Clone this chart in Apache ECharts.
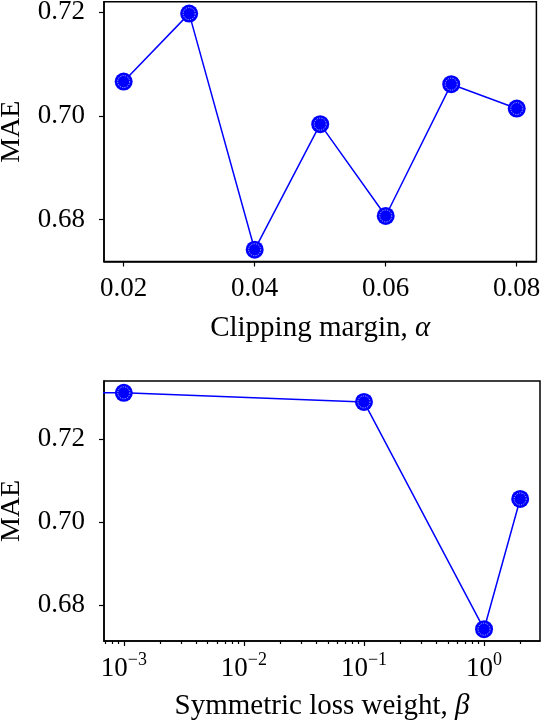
<!DOCTYPE html>
<html>
<head>
<meta charset="utf-8">
<script src="https://cdn.jsdelivr.net/npm/echarts@6/dist/echarts.min.js"></script>
<style>
html,body{margin:0;padding:0;background:#fff;}
#chart{width:542px;height:722px;}
</style>
</head>
<body>
<div id="chart"></div>
<script>
// ---- data ----
const alphaValues = [0.02, 0.03, 0.04, 0.05, 0.06, 0.07, 0.08];
const maeAlpha    = [0.7066, 0.7197, 0.6742, 0.6984, 0.6807, 0.7061, 0.7014];

const betaValues  = [0, 0.001, 0.1, 1, 2];
const maeBeta     = [0.7314, 0.7312, 0.7290, 0.6742, 0.7056];

const yTicks      = [0.68, 0.70, 0.72];
const alphaTicks  = [0.02, 0.04, 0.06, 0.08];
const betaMajor   = [0.001, 0.01, 0.1, 1];
const betaMinor   = [0.0007, 0.0008, 0.0009,
  0.002, 0.003, 0.004, 0.005, 0.006, 0.007, 0.008, 0.009,
  0.02, 0.03, 0.04, 0.05, 0.06, 0.07, 0.08, 0.09,
  0.2, 0.3, 0.4, 0.5, 0.6, 0.7, 0.8, 0.9, 2];

// like matplotlib's log-scale clipping, a zero is sent far to the left
const clipZero = v => (v <= 0 ? 1e-12 : v);

const FONT = 'Liberation Serif';
const FS = 27;
const FS_NAME = 29;
const BLUE = '#0000ff';

const alphaPairs = alphaValues.map((x, i) => [x, maeAlpha[i]]);
const betaPairs  = betaValues.map((x, i) => [clipZero(x), maeBeta[i]]);
const betaMarkers = betaPairs.filter((p, i) => betaValues[i] > 0);

const labelStyle = {color: '#000', fontFamily: FONT, fontSize: FS};
const nameStyle = {color: '#000', fontFamily: FONT, fontSize: FS_NAME,
  rich: {i: {fontStyle: 'italic', fontFamily: FONT, fontSize: FS_NAME, color: '#000'}}};
const yNameStyle = {color: '#000', fontFamily: FONT, fontSize: 28};
const axisLine = {show: true, lineStyle: {color: '#000', width: 1.5}};
const tick = (vals, len) => ({show: true, inside: false, length: len, customValues: vals,
  lineStyle: {color: '#000', width: 1.2}});

function supLabel(v) {
  const e = Math.round(Math.log10(v));
  const s = e < 0 ? '\u2212' + (-e) : String(e);
  return '{b|10}{s|' + s + '}';
}

const chart = echarts.init(document.getElementById('chart'), null, {renderer: 'canvas'});
chart.setOption({
  animation: false,
  backgroundColor: '#fff',
  grid: [
    {left: 104, right: 5.6, top: 1.8, bottom: 460.5, show: true, borderColor: '#000', borderWidth: 1.5,
     containLabel: false, outerBoundsMode: 'none'},
    {left: 104, right: 2, top: 381, bottom: 81, show: true, borderColor: '#000', borderWidth: 1.5,
     containLabel: false, outerBoundsMode: 'none'}
  ],
  xAxis: [
    {
      gridIndex: 0, type: 'value', min: 0.017, max: 0.083,
      axisLine, splitLine: {show: false},
      axisTick: tick(alphaTicks, 5),
      axisLabel: Object.assign({customValues: alphaTicks, margin: 14,
        formatter: v => v.toFixed(2)}, labelStyle),
      name: 'Clipping margin, {i|α}', nameLocation: 'middle', nameGap: 52,
      nameTextStyle: nameStyle
    },
    {
      gridIndex: 1, type: 'log', logBase: 10, min: 0.000684, max: 2.924, position: 'bottom',
      axisLine, splitLine: {show: false},
      axisTick: tick(betaMajor, 5),
      axisLabel: Object.assign({customValues: betaMajor, margin: 10,
        formatter: supLabel,
        rich: {
          b: {fontFamily: FONT, fontSize: FS, color: '#000', padding: [4, 0, 0, 0]},
          s: {fontFamily: FONT, fontSize: 18, color: '#000', verticalAlign: 'top'}
        }}, labelStyle),
      name: 'Symmetric loss weight, {i|β}', nameLocation: 'middle', nameGap: 51,
      nameTextStyle: nameStyle
    },
    {
      gridIndex: 1, type: 'log', logBase: 10, min: 0.000684, max: 2.924, position: 'bottom',
      axisLine: {show: false}, splitLine: {show: false},
      axisTick: tick(betaMinor, 3),
      axisLabel: {show: false}
    }
  ],
  yAxis: [
    {
      gridIndex: 0, type: 'value', min: 0.671925, max: 0.721975,
      axisLine, splitLine: {show: false},
      axisTick: tick(yTicks, 5),
      axisLabel: Object.assign({customValues: yTicks, margin: 19, formatter: v => v.toFixed(2)}, labelStyle),
      name: 'MAE', nameLocation: 'middle', nameGap: 78, nameTextStyle: yNameStyle
    },
    {
      gridIndex: 1, type: 'value', min: 0.67135, max: 0.73405,
      axisLine, splitLine: {show: false},
      axisTick: tick(yTicks, 5),
      axisLabel: Object.assign({customValues: yTicks, margin: 19, formatter: v => v.toFixed(2)}, labelStyle),
      name: 'MAE', nameLocation: 'middle', nameGap: 78, nameTextStyle: yNameStyle
    }
  ],
  series: [
    {
      type: 'line', xAxisIndex: 0, yAxisIndex: 0, data: alphaPairs, z: 2,
      symbol: 'circle', symbolSize: 18, clip: true,
      lineStyle: {color: BLUE, width: 1.5}, itemStyle: {color: BLUE}
    },
    {
      type: 'scatter', xAxisIndex: 0, yAxisIndex: 0, data: alphaPairs, z: 10,
      symbol: 'circle', symbolSize: 12, clip: true,
      itemStyle: {color: BLUE, borderColor: '#fff', borderWidth: 0.8, borderType: [1.2, 1.2]}
    },
    {
      type: 'line', xAxisIndex: 1, yAxisIndex: 1, data: betaPairs, z: 2,
      symbol: 'circle', symbolSize: 18, clip: true,
      lineStyle: {color: BLUE, width: 1.5}, itemStyle: {color: BLUE}
    },
    {
      type: 'scatter', xAxisIndex: 1, yAxisIndex: 1, data: betaMarkers, z: 10,
      symbol: 'circle', symbolSize: 12, clip: true,
      itemStyle: {color: BLUE, borderColor: '#fff', borderWidth: 0.8, borderType: [1.2, 1.2]}
    }
  ]
});
</script>
</body>
</html>
